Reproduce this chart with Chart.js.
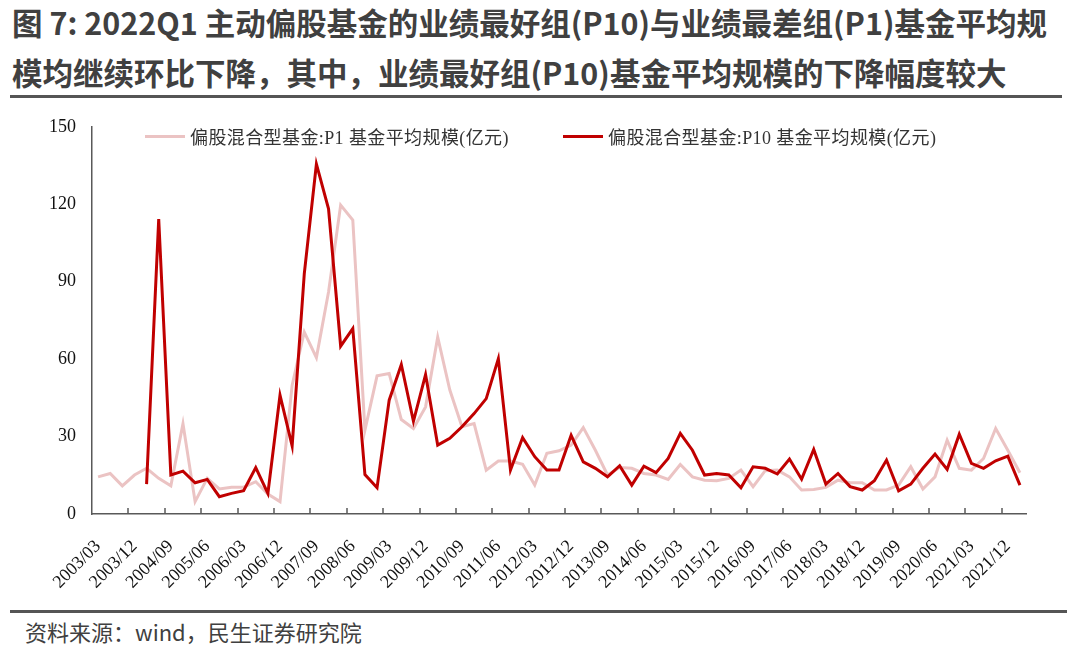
<!DOCTYPE html>
<html>
<head>
<meta charset="utf-8">
<script src="https://cdn.jsdelivr.net/npm/chart.js@4.4.0/dist/chart.umd.min.js"></script>
<style>
    body { margin: 0; width: 1080px; height: 649px; background: #fff; position: relative; overflow: hidden; font-family: "Noto Sans CJK SC", sans-serif; }
    #title { position: absolute; left: 12px; top: -3px; font-weight: bold; font-size: 30.5px; line-height: 50px; color: #404040; white-space: nowrap; }
    .rule { position: absolute; height: 3px; background: #555; }
    #chartBox { position: absolute; left: 0; top: 100px; }
    .leg { position: absolute; top: 123px; font-family: "Liberation Serif", "Noto Sans CJK SC", serif; font-size: 18px; letter-spacing: 0.4px; color: #333; display: flex; align-items: center; white-space: nowrap; }
    .leg i { display: inline-block; width: 40px; height: 3px; margin-right: 5px; }
    #source { position: absolute; left: 25px; top: 615px; font-size: 22px; color: #404040; }
</style>
</head>
<body>
<div id="title">图 7: 2022Q1 主动偏股基金的业绩最好组(P10)与业绩最差组(P1)基金平均规<br>模均继续环比下降，其中，业绩最好组(P10)基金平均规模的下降幅度较大</div>
<div class="rule" style="left:10px;top:95px;width:1052px"></div>
<div id="chartBox"><canvas id="grafico" width="1080" height="505"></canvas></div>
<div class="leg" id="leg1" style="left:145px"></div>
<div class="leg" id="leg2" style="left:563px"></div>
<div class="rule" style="left:10px;top:610px;width:1057px"></div>
<div id="source">资料来源：wind，民生证券研究院</div>

<script>
// trimestres 2003/03 .. 2022/03
const trimestres = [
    '2003/03', '2003/06', '2003/09', '2003/12',
    '2004/03', '2004/06', '2004/09', '2004/12',
    '2005/03', '2005/06', '2005/09', '2005/12',
    '2006/03', '2006/06', '2006/09', '2006/12',
    '2007/03', '2007/06', '2007/09', '2007/12',
    '2008/03', '2008/06', '2008/09', '2008/12',
    '2009/03', '2009/06', '2009/09', '2009/12',
    '2010/03', '2010/06', '2010/09', '2010/12',
    '2011/03', '2011/06', '2011/09', '2011/12',
    '2012/03', '2012/06', '2012/09', '2012/12',
    '2013/03', '2013/06', '2013/09', '2013/12',
    '2014/03', '2014/06', '2014/09', '2014/12',
    '2015/03', '2015/06', '2015/09', '2015/12',
    '2016/03', '2016/06', '2016/09', '2016/12',
    '2017/03', '2017/06', '2017/09', '2017/12',
    '2018/03', '2018/06', '2018/09', '2018/12',
    '2019/03', '2019/06', '2019/09', '2019/12',
    '2020/03', '2020/06', '2020/09', '2020/12',
    '2021/03', '2021/06', '2021/09', '2021/12',
    '2022/03'
];

const nomeP1 = '偏股混合型基金:P1 基金平均规模(亿元)';
const nomeP10 = '偏股混合型基金:P10 基金平均规模(亿元)';

const valoresP1 = [
    14.4, 15.7, 10.9, 15.1, 17.7, 13.8, 10.9, 35.0, 4.8, 13.8,
    9.7, 10.4, 10.4, 12.5, 7.7, 4.8, 49.9, 70.5, 60.6, 86.0,
    119.7, 113.9, 32.5, 53.5, 54.4, 36.6, 33.1, 41.5, 68.5, 48.0,
    33.8, 35.0, 17.0, 20.5, 20.5, 19.3, 11.2, 23.5, 24.5, 26.7,
    33.5, 24.7, 15.1, 18.0, 17.7, 15.7, 15.1, 13.4, 19.2, 14.4,
    13.1, 12.9, 13.8, 17.0, 10.6, 16.8, 17.0, 14.4, 9.3, 9.5,
    10.3, 13.1, 12.1, 12.1, 9.3, 9.3, 11.2, 18.3, 9.7, 14.4,
    28.6, 17.7, 17.0, 21.5, 33.1, 24.7, 16.0
];

const valoresP10 = [
    null, null, null, null, 11.6, 114.3, 15.1, 16.6, 12.1, 13.4,
    6.7, 8.0, 9.0, 18.0, 8.0, 46.0, 26.4, 93.0, 135.6, 118.2,
    65.0, 71.8, 15.3, 10.2, 44.1, 57.9, 35.9, 54.0, 26.7, 29.3,
    33.8, 38.9, 44.7, 60.2, 17.0, 29.6, 22.2, 17.0, 17.0, 30.5,
    20.2, 17.7, 14.4, 18.7, 11.2, 18.5, 16.0, 21.5, 31.2, 24.7,
    15.1, 15.7, 15.1, 10.2, 18.3, 17.7, 15.5, 21.3, 13.5, 25.0,
    11.6, 15.7, 10.6, 9.3, 12.9, 20.9, 9.0, 11.6, 17.7, 23.2,
    17.3, 30.9, 19.6, 17.7, 20.6, 22.4, 11.2
];

const corP1 = '#ebc3c3';
const corP10 = '#c00000';
const corEixo = '#595959';

function montarLegenda(id, cor, texto) {
    const el = document.getElementById(id);
    el.innerHTML = `<i style="background:${cor}"></i><span>${texto}</span>`;
}

montarLegenda('leg1', corP1, nomeP1);
montarLegenda('leg2', corP10, nomeP10);

// marcas curtas do eixo X, para dentro, a cada 3 trimestres
const marcasEixoX = {
    id: 'marcasEixoX',
    afterDraw(chart) {
        const x = chart.scales.x;
        const area = chart.chartArea;
        const c = chart.ctx;
        const meio = (x.getPixelForValue(1) - x.getPixelForValue(0)) / 2;
        c.save();
        c.strokeStyle = corEixo;
        c.lineWidth = 1.5;
        for (let i = 3; i < trimestres.length; i += 3) {
            const px = Math.round(x.getPixelForValue(i) - meio);
            c.beginPath();
            c.moveTo(px, area.bottom);
            c.lineTo(px, area.bottom - 6);
            c.stroke();
        }
        c.restore();
    }
};

const ctx = document.getElementById('grafico').getContext('2d');

new Chart(ctx, {
    type: 'line',
    data: {
        labels: trimestres,
        datasets: [{
            label: nomeP1,
            data: valoresP1,
            borderColor: corP1,
            borderWidth: 3,
            pointRadius: 0,
            tension: 0,
            order: 2
        }, {
            label: nomeP10,
            data: valoresP10,
            borderColor: corP10,
            borderWidth: 3,
            pointRadius: 0,
            tension: 0,
            order: 1
        }]
    },
    options: {
        responsive: false,
        animation: false,
        layout: { padding: { top: 26, right: 54, left: 0, bottom: 0 } },
        plugins: {
            legend: { display: false },
            tooltip: { enabled: false }
        },
        scales: {
            x: {
                offset: true,
                grid: { display: false, drawTicks: false },
                border: { color: corEixo, width: 1.5 },
                ticks: {
                    autoSkip: false,
                    minRotation: 45,
                    maxRotation: 45,
                    padding: 22,
                    color: '#111',
                    font: { family: 'Liberation Serif', size: 18 },
                    callback: (v, i) => i % 3 === 0 ? trimestres[i] : ''
                },
                afterFit: s => { s.height = 91; }
            },
            y: {
                min: 0,
                max: 150,
                ticks: {
                    stepSize: 30,
                    padding: 16,
                    color: '#111',
                    font: { family: 'Liberation Serif', size: 18 }
                },
                grid: { drawOnChartArea: false, drawTicks: false },
                border: { color: corEixo, width: 1.5 },
                afterFit: s => { s.width = 92; }
            }
        }
    },
    plugins: [marcasEixoX]
});
</script>
</body>
</html>
